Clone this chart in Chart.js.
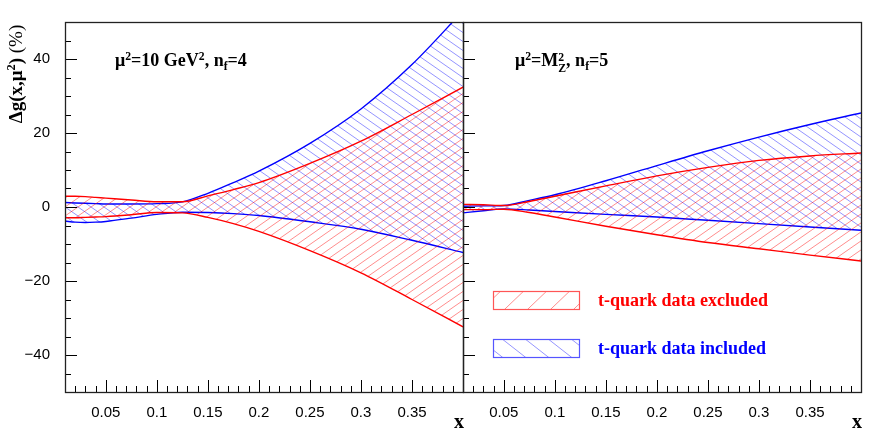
<!DOCTYPE html>
<html>
<head>
<meta charset="utf-8">
<script src="https://cdn.jsdelivr.net/npm/chart.js@4.4.1/dist/chart.umd.min.js"></script>
<style>
  html, body { margin:0; padding:0; background:#fff; }
  #wrap { position:relative; width:872px; height:436px; overflow:hidden; }
  #wrap canvas { position:absolute; left:0; top:0; }
  .t { position:absolute; font-family:"Liberation Serif","Times New Roman",serif; font-weight:bold; white-space:nowrap; line-height:18px; }
  .sup { position:relative; top:-0.55em; font-size:0.65em; }
  .sub { position:relative; top:0.35em; font-size:0.65em; }
</style>
</head>
<body>
<div id="wrap">
  <canvas id="cL" width="872" height="436"></canvas>
  <canvas id="cR" width="872" height="436"></canvas>
  <div class="t" id="ytitle" style="font-size:19px;color:#000;width:120px;text-align:center;transform-origin:0 0;transform:translate(7px,134px) rotate(-90deg);">&Delta;g(x,&mu;<span class="sup">2</span>) <span style="font-weight:normal">(%)</span></div>
  <div class="t" style="left:115px;top:51px;font-size:18px;color:#000;">&mu;<span class="sup">2</span>=10 GeV<span class="sup">2</span>, n<span class="sub">f</span>=4</div>
  <div class="t" style="left:515px;top:51px;font-size:18px;color:#000;">&mu;<span class="sup">2</span>=M<span style="display:inline-block;font-size:0.65em;line-height:0.95em;vertical-align:-0.55em;text-align:left;">2<br>Z</span>, n<span class="sub">f</span>=5</div>
  <div class="t" style="left:598px;top:291px;font-size:18px;color:#ff0000;">t-quark data excluded</div>
  <div class="t" style="left:598px;top:339px;font-size:18px;color:#0000ff;">t-quark data included</div>
  <div class="t" style="left:454px;top:412px;font-size:20px;color:#000;">x</div>
  <div class="t" style="left:852px;top:412px;font-size:20px;color:#000;">x</div>
</div>
<script>
// ---- data ----
const xLeft   = [0.01,0.02,0.03,0.04,0.05,0.075,0.1,0.125,0.15,0.175,0.2,0.25,0.3,0.35,0.4];
const redUpL  = [2.9,2.9,2.8,2.6,2.4,1.9,1.4,1.4,3.0,4.7,6.6,11.8,17.8,25.0,32.4];
const redLoL  = [-2.9,-2.9,-2.8,-2.7,-2.6,-2.1,-1.5,-1.6,-2.8,-4.5,-6.6,-11.8,-17.8,-25.0,-32.4];
const blueUpL = [1.2,1.1,1.0,0.9,0.8,0.8,0.9,1.4,3.7,6.6,9.7,17.2,26.5,38.5,53.0];
const blueLoL = [-3.8,-4.1,-4.2,-4.1,-3.9,-3.0,-2.0,-1.4,-1.5,-1.8,-2.3,-4.0,-6.0,-9.0,-12.3];

const xRight  = [0.01,0.03,0.05,0.075,0.1,0.15,0.2,0.25,0.3,0.35,0.4];
const redUpR  = [0.7,0.6,0.4,1.5,2.9,5.7,8.4,10.7,12.6,13.8,14.6];
const redLoR  = [-0.7,-0.7,-0.6,-1.5,-2.7,-5.2,-7.5,-9.6,-11.3,-13.0,-14.6];
const blueUpR = [0.2,0.3,0.4,1.8,3.3,7.1,11.2,15.2,18.9,22.3,25.4];
const blueLoR = [-1.6,-1.0,-0.5,-0.8,-1.2,-2.0,-2.7,-3.6,-4.5,-5.4,-6.3];

const xTickLabels = [0.05,0.1,0.15,0.2,0.25,0.3,0.35];
const yTickLabels = [-40,-20,0,20,40];
const xMin = 0.01, xMax = 0.4, yMin = -50, yMax = 50;

// ---- hatch patterns ----
function hatch(color, dir, w, h) {
  const c = document.createElement('canvas');
  c.width = w; c.height = h;
  const g = c.getContext('2d');
  g.strokeStyle = color; g.lineWidth = 1;
  for (const s of [-w, 0, w]) {
    g.beginPath();
    if (dir > 0) { g.moveTo(s - w, 2*h); g.lineTo(s + 2*w, -h); }
    else { g.moveTo(s - w, -h); g.lineTo(s + 2*w, 2*h); }
    g.stroke();
  }
  return g.createPattern(c, 'repeat');
}
const redHatch  = hatch('rgba(255,0,0,0.45)', 1, 13, 9);
const blueHatch = hatch('rgba(0,0,255,0.42)', -1, 13, 9);
const redHatchLeg  = hatch('rgba(255,0,0,0.45)', 1, 23, 22);
const blueHatchLeg = hatch('rgba(0,0,255,0.42)', -1, 23, 18);

function pts(xs, ys) { return xs.map((x, i) => ({x: x, y: ys[i]})); }

function bands(xs, rU, rL, bU, bL) {
  const common = { pointRadius: 0, borderWidth: 1.4, cubicInterpolationMode: 'monotone' };
  return [
    Object.assign({ data: pts(xs, rU), borderColor: '#ff0000', backgroundColor: redHatch, fill: '+1' }, common),
    Object.assign({ data: pts(xs, rL), borderColor: '#ff0000', fill: false }, common),
    Object.assign({ data: pts(xs, bU), borderColor: '#0000ff', backgroundColor: blueHatch, fill: '+1' }, common),
    Object.assign({ data: pts(xs, bL), borderColor: '#0000ff', fill: false }, common)
  ];
}

const frameTicks = {
  id: 'frameTicks',
  afterDraw(chart, args, opts) {
    const { ctx, chartArea: a, scales } = chart;
    const xs = scales.x, ys = scales.y;
    ctx.save();
    ctx.strokeStyle = '#000'; ctx.lineWidth = 1;
    ctx.beginPath();
    for (let k = 2; k < 40; k++) {
      const px = Math.round(xs.getPixelForValue(k / 100)) + 0.5;
      const len = (k % 5 === 0) ? 12 : 6;
      ctx.moveTo(px, a.bottom); ctx.lineTo(px, a.bottom - len);
    }
    for (let v = -45; v <= 45; v += 5) {
      const py = Math.round(ys.getPixelForValue(v)) + 0.5;
      const len = (v % 20 === 0) ? 12 : 6;
      ctx.moveTo(a.left, py); ctx.lineTo(a.left + len, py);
    }
    ctx.stroke();
    ctx.lineWidth = 1.3;
    ctx.strokeStyle = '#222';
    ctx.strokeRect(Math.round(a.left) + 0.5, Math.round(a.top) + 0.5, Math.round(a.right - a.left), Math.round(a.bottom - a.top));
    if (opts.legend) {
      const bx = a.left + 30, bw = 86, bh = 18;
      const items = [[a.top + 269, redHatchLeg, '#ff5555'], [a.top + 317, blueHatchLeg, '#5555ff']];
      for (const [by, pat, col] of items) {
        ctx.fillStyle = pat; ctx.fillRect(bx, by, bw, bh);
        ctx.strokeStyle = col; ctx.lineWidth = 1.2;
        ctx.strokeRect(bx + 0.5, by + 0.5, bw, bh);
      }
    }
    ctx.restore();
  }
};

function xScale() {
  return {
    type: 'linear', min: xMin, max: xMax,
    grid: { display: false, drawTicks: false },
    border: { display: false },
    afterBuildTicks: s => { s.ticks = xTickLabels.map(v => ({ value: v })); },
    afterFit: s => { s.height = 44; s.paddingLeft = 0; s.paddingRight = 0; },
    ticks: {
      padding: 12, color: '#000', maxRotation: 0, autoSkip: false,
      font: { family: '"Liberation Sans", Arial, sans-serif', size: 15 },
      callback: v => String(Math.round(v * 100) / 100)
    }
  };
}

function makeChart(id, xs, rU, rL, bU, bL, isLeft) {
  return new Chart(document.getElementById(id), {
    type: 'line',
    data: { datasets: bands(xs, rU, rL, bU, bL) },
    options: {
      responsive: false, animation: false, events: [],
      layout: { padding: isLeft ? { left: 0, right: 409, top: 22, bottom: 0 } : { left: 463, right: 11, top: 22, bottom: 0 } },
      plugins: { legend: { display: false }, tooltip: { enabled: false }, frameTicks: { legend: !isLeft } },
      scales: {
        x: xScale(),
        y: {
          type: 'linear', min: yMin, max: yMax, display: isLeft,
          grid: { display: false, drawTicks: false },
          border: { display: false },
          afterBuildTicks: s => { s.ticks = yTickLabels.map(v => ({ value: v })); },
          afterFit: s => { s.width = isLeft ? 65 : 0; s.paddingTop = 0; s.paddingBottom = 0; },
          ticks: {
            padding: 15, color: '#000',
            font: { family: '"Liberation Sans", Arial, sans-serif', size: 15 },
            callback: v => v < 0 ? '\u2212' + (-v) : String(v)
          }
        }
      }
    },
    plugins: [frameTicks]
  });
}

makeChart('cL', xLeft, redUpL, redLoL, blueUpL, blueLoL, true);
makeChart('cR', xRight, redUpR, redLoR, blueUpR, blueLoR, false);
</script>
</body>
</html>
